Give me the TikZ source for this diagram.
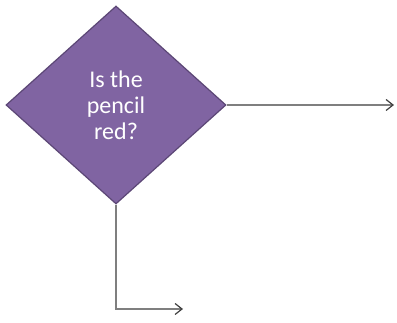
\documentclass[tikz,border=0pt]{standalone}
\usepackage{fontspec}
\setmainfont{Carlito}
\usetikzlibrary{shapes.geometric,arrows.meta}
\definecolor{dpurple}{HTML}{8064A2}
\definecolor{dborder}{HTML}{5C4776}
\definecolor{lgray}{HTML}{7F7F7F}
\begin{document}
\begin{tikzpicture}[x=1pt,y=-1pt,
  decision/.style={diamond, draw=dborder, line width=1.2pt, fill=dpurple,
    minimum width=220pt, minimum height=198pt, inner sep=0pt,
    text=white, align=center, font=\fontsize{24}{26}\selectfont},
  conn/.style={draw=lgray, line width=1.6pt,
    -{Straight Barb[length=7pt,width=11pt,line width=1.2pt,color=black!75]}}]
\useasboundingbox (0,0) rectangle (397,323);
\node[decision] (d) at (116,105) {Is the\\pencil\\red?};
\coordinate (r) at (394,105);
\coordinate (c) at (116,309);
\coordinate (b) at (183,309);
\draw[conn] (d.east) -- (r);
\draw[conn] (d.south) -- (c) -- (b);
\end{tikzpicture}
\end{document}
